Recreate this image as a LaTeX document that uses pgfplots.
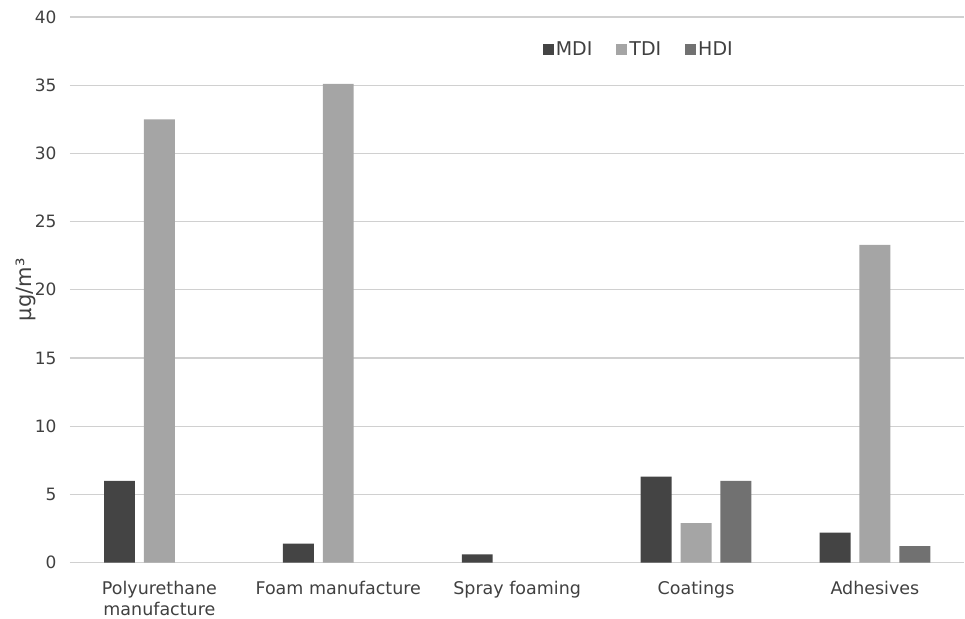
\documentclass[border=0pt]{standalone}
\usepackage{pgfplots}
\pgfplotsset{compat=1.18}
\usepackage{fontspec}
\setmainfont{DejaVu Sans}

\definecolor{mdi}{HTML}{444444}
\definecolor{tdi}{HTML}{A5A5A5}
\definecolor{hdi}{HTML}{717171}
\definecolor{gridc}{HTML}{D0D0D0}
\definecolor{txt}{HTML}{404040}

\begin{document}
\begin{tikzpicture}[x=1bp,y=1bp]
	\begin{axis}[
		scale only axis,
		width=895bp, height=546bp,
		ybar, bar width=0.173,
		ymin=0, ymax=40, ytick distance=5,
		xmin=-0.5, xmax=4.5,
		xtick=data,
		xticklabels={{Polyurethane\\manufacture},{Foam manufacture},{Spray foaming},{Coatings},{Adhesives}},
		x tick label style={align=center, font=\fontsize{17.5bp}{20.5bp}\selectfont, text=txt, yshift=-15.5bp},
		y tick label style={font=\fontsize{17bp}{19bp}\selectfont, text=txt, xshift=-10bp},
		/pgf/number format/assume math mode=true,
		ylabel={µg/m³},
		ylabel style={font=\fontsize{21bp}{23bp}\selectfont, text=txt,
			at={(axis description cs:0,0.5)}, anchor=south, yshift=31bp},
		axis line style={draw=none},
		major tick length=0pt,
		ymajorgrids, grid style={gridc, line width=1.3bp},
		legend columns=3,
		legend style={draw=none, at={(0.636,0.94)}, anchor=center,
			font=\fontsize{19bp}{21bp}\selectfont, text=txt,
			nodes={inner sep=2bp},
			/tikz/every even column/.append style={column sep=22bp}},
		legend image code/.code={\fill[#1] (0bp,-5.5bp) rectangle (11bp,5.5bp);},
	]
	\addplot[fill=mdi, draw=none, bar shift=-0.223]
		coordinates {(0,6.0) (1,1.4) (2,0.6) (3,6.3) (4,2.2)};
	\addlegendentry{MDI}
	\addplot[fill=tdi, draw=none, bar shift=0]
		coordinates {(0,32.5) (1,35.1) (3,2.9) (4,23.3)};
	\addlegendentry{TDI}
	\addplot[fill=hdi, draw=none, bar shift=0.223]
		coordinates {(3,6.0) (4,1.2)};
	\addlegendentry{HDI}
	\end{axis}
	% page margins as in the reference
	\path ([xshift=-70bp,yshift=17bp]current axis.north west);
	\path ([yshift=-54bp]current axis.south east);
\end{tikzpicture}
\end{document}
